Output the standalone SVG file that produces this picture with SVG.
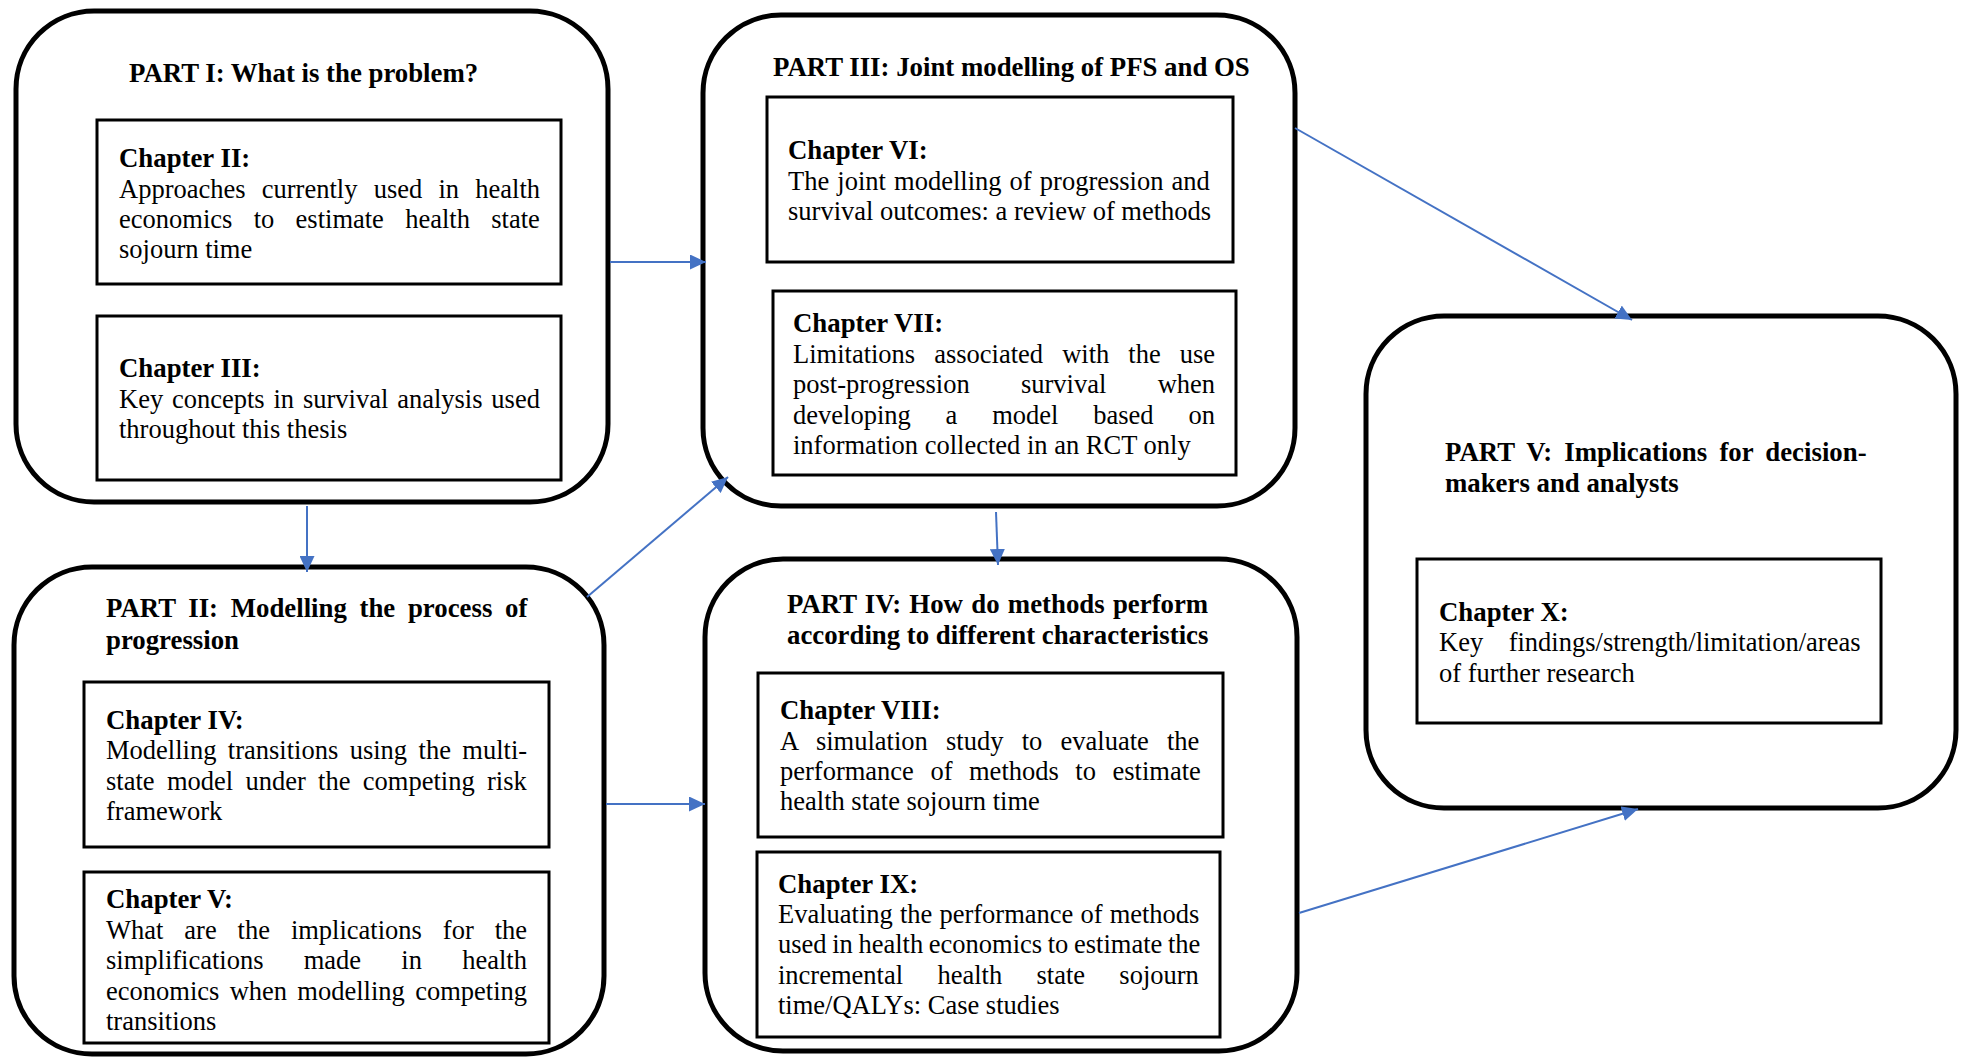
<svg xmlns="http://www.w3.org/2000/svg" width="1964" height="1057" viewBox="0 0 1964 1057">
  <style>
    .part { fill: #ffffff; stroke: #000000; stroke-width: 5; }
    .chap { fill: #ffffff; stroke: #000000; stroke-width: 3; }
    text { font-family: "Liberation Serif", "Times New Roman", serif; font-size: 26.5px; fill: #000000; }
    .b { font-weight: bold; font-size: 26.8px; }
    .link { stroke: #4472C4; stroke-width: 2; fill: none; marker-end: url(#arrow); }
  </style>
  <defs>
    <marker id="arrow" markerUnits="userSpaceOnUse" markerWidth="17" markerHeight="15" refX="16" refY="7.5" orient="auto">
      <path d="M0,0 L16,7.5 L0,15 z" fill="#4472C4"/>
    </marker>
  </defs>
  <rect width="1964" height="1057" fill="#ffffff"/>

  <!-- PART I -->
  <g id="part1">
    <rect class="part" x="16" y="11" width="592" height="491" rx="78" ry="78"/>
    <text class="b" x="129" y="82">PART I: What is the problem?</text>
    <g id="ch2">
      <rect class="chap" x="97" y="120" width="464" height="164"/>
      <text class="b" x="119" y="167">Chapter II:</text>
      <text x="119" y="198" word-spacing="9.6">Approaches currently used in health</text>
      <text x="119" y="228" word-spacing="14.7">economics to estimate health state</text>
      <text x="119" y="258">sojourn time</text>
    </g>
    <g id="ch3">
      <rect class="chap" x="97" y="316" width="464" height="164"/>
      <text class="b" x="119" y="377">Chapter III:</text>
      <text x="119" y="408" word-spacing="2.2">Key concepts in survival analysis used</text>
      <text x="119" y="438">throughout this thesis</text>
    </g>
  </g>

  <!-- PART II -->
  <g id="part2">
    <rect class="part" x="14" y="567" width="590" height="487" rx="78" ry="78"/>
    <text class="b" x="106" y="617" word-spacing="6.0">PART II: Modelling the process of</text>
    <text class="b" x="106" y="649">progression</text>
    <g id="ch4">
      <rect class="chap" x="84" y="682" width="465" height="165"/>
      <text class="b" x="106" y="729">Chapter IV:</text>
      <text x="106" y="759" word-spacing="4.8">Modelling transitions using the multi-</text>
      <text x="106" y="790" word-spacing="5.7">state model under the competing risk</text>
      <text x="106" y="820">framework</text>
    </g>
    <g id="ch5">
      <rect class="chap" x="84" y="872" width="465" height="171"/>
      <text class="b" x="106" y="908">Chapter V:</text>
      <text x="106" y="939" word-spacing="14.3">What are the implications for the</text>
      <text x="106" y="969" word-spacing="33.6">simplifications made in health</text>
      <text x="106" y="1000" word-spacing="3.7">economics when modelling competing</text>
      <text x="106" y="1030">transitions</text>
    </g>
  </g>

  <!-- PART III -->
  <g id="part3">
    <rect class="part" x="703" y="15" width="592" height="491" rx="78" ry="78"/>
    <text class="b" x="773" y="76">PART III: Joint modelling of PFS and OS</text>
    <g id="ch6">
      <rect class="chap" x="767" y="97" width="466" height="165"/>
      <text class="b" x="788" y="159">Chapter VI:</text>
      <text x="788" y="190" word-spacing="1.5">The joint modelling of progression and</text>
      <text x="788" y="220">survival outcomes: a review of methods</text>
    </g>
    <g id="ch7">
      <rect class="chap" x="773" y="291" width="463" height="184"/>
      <text class="b" x="793" y="332">Chapter VII:</text>
      <text x="793" y="363" word-spacing="12.4">Limitations associated with the use</text>
      <text x="793" y="393" word-spacing="44.7">post-progression survival when</text>
      <text x="793" y="424" word-spacing="28.2">developing a model based on</text>
      <text x="793" y="454">information collected in an RCT only</text>
    </g>
  </g>

  <!-- PART IV -->
  <g id="part4">
    <rect class="part" x="705" y="559" width="592" height="492" rx="78" ry="78"/>
    <text class="b" x="787" y="613" word-spacing="1.6">PART IV: How do methods perform</text>
    <text class="b" x="787" y="644">according to different characteristics</text>
    <g id="ch8">
      <rect class="chap" x="758" y="673" width="465" height="164"/>
      <text class="b" x="780" y="719">Chapter VIII:</text>
      <text x="780" y="750" word-spacing="11.6">A simulation study to evaluate the</text>
      <text x="780" y="780" word-spacing="9.9">performance of methods to estimate</text>
      <text x="780" y="810">health state sojourn time</text>
    </g>
    <g id="ch9">
      <rect class="chap" x="757" y="852" width="463" height="185"/>
      <text class="b" x="778" y="893">Chapter IX:</text>
      <text x="778" y="923" word-spacing="0.5">Evaluating the performance of methods</text>
      <text x="778" y="953" word-spacing="-1.0">used in health economics to estimate the</text>
      <text x="778" y="984" word-spacing="27.7">incremental health state sojourn</text>
      <text x="778" y="1014">time/QALYs: Case studies</text>
    </g>
  </g>

  <!-- PART V -->
  <g id="part5">
    <rect class="part" x="1366" y="316" width="590" height="492" rx="78" ry="78"/>
    <text class="b" x="1445" y="461" word-spacing="5.5">PART V: Implications for decision-</text>
    <text class="b" x="1445" y="492">makers and analysts</text>
    <g id="ch10">
      <rect class="chap" x="1417" y="559" width="464" height="164"/>
      <text class="b" x="1439" y="621">Chapter X:</text>
      <text x="1439" y="651" word-spacing="18.9">Key findings/strength/limitation/areas</text>
      <text x="1439" y="682">of further research</text>
    </g>
  </g>

  <!-- connectors -->
  <g id="connectors">
    <line class="link" x1="610" y1="262" x2="706" y2="262"/>
    <line class="link" x1="307" y1="506" x2="307" y2="572"/>
    <line class="link" x1="587" y1="597" x2="728" y2="477"/>
    <line class="link" x1="606" y1="804" x2="705" y2="804"/>
    <line class="link" x1="996" y1="512" x2="998" y2="565"/>
    <line class="link" x1="1295" y1="128" x2="1632" y2="320"/>
    <line class="link" x1="1299" y1="913" x2="1638" y2="809"/>
  </g>
</svg>
